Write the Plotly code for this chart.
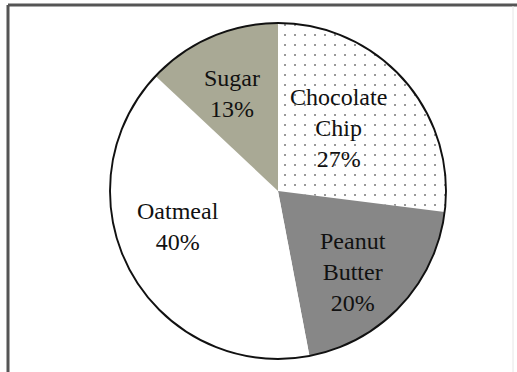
import math
import plotly.graph_objects as go

# Cookie preference shares (percent), clockwise from 12 o'clock
flavors = ["Chocolate<br>Chip", "Peanut<br>Butter", "Oatmeal", "Sugar"]
shares = [27, 20, 40, 13]

# Slice styling
fill_colors = ["#ffffff", "#878787", "#ffffff", "#a9a995"]
pattern_shapes = [".", "", "", ""]

# Label placement: fraction of the radius and small angular nudge (degrees)
label_radius = [0.52, 0.66, 0.63, 0.64]
label_turn = [-5, 4, 9, -2]

W, H = 517, 372
CX, CY, R = 278, 191, 168  # pie centre and radius in pixels

dom_x = [(CX - R) / W, (CX + R) / W]
dom_y = [(H - CY - R) / H, (H - CY + R) / H]

fig = go.Figure()

fig.add_trace(go.Pie(
    labels=flavors,
    values=shares,
    sort=False,
    direction="clockwise",
    rotation=0,
    domain=dict(x=dom_x, y=dom_y),
    marker=dict(
        colors=fill_colors,
        line=dict(width=0),
        pattern=dict(shape=pattern_shapes, fgcolor="#000000", bgcolor="#ffffff",
                     size=10, solidity=0.035, fillmode="overlay"),
    ),
    textinfo="none",
    hoverinfo="skip",
    showlegend=False,
))

# Outer rim of the pie
fig.add_trace(go.Pie(
    values=[1],
    labels=["rim"],
    sort=False,
    domain=dict(x=dom_x, y=dom_y),
    marker=dict(colors=["rgba(0,0,0,0)"], line=dict(color="#111111", width=1.9)),
    textinfo="none",
    hoverinfo="skip",
    showlegend=False,
))

# Slice labels placed along each slice's mid-angle
total = sum(shares)
cum = 0
annotations = []
for name, val, rf, turn in zip(flavors, shares, label_radius, label_turn):
    mid = (cum + val / 2) / total * 360 + turn
    cum += val
    px = CX + rf * R * math.sin(math.radians(mid))
    py = CY - rf * R * math.cos(math.radians(mid))
    pct = round(val / total * 100)
    annotations.append(dict(
        x=px / W, y=1 - py / H, xref="paper", yref="paper",
        text=f"{name}<br>{pct}%", showarrow=False,
        xanchor="center", yanchor="middle", align="center",
        font=dict(family="Liberation Serif, Times New Roman, serif", size=24, color="#111111"),
    ))

# Frame around the chart area
shapes = [
    dict(type="line", xref="paper", yref="paper", x0=8 / W, x1=1, y0=1 - 5 / H, y1=1 - 5 / H,
         line=dict(color="#555555", width=3)),
    dict(type="line", xref="paper", yref="paper", x0=8 / W, x1=8 / W, y0=0, y1=1 - 5 / H,
         line=dict(color="#555555", width=3)),
    dict(type="line", xref="paper", yref="paper", x0=513 / W, x1=513 / W, y0=0, y1=1 - 6 / H,
         line=dict(color="#e6e6e6", width=1)),
]

fig.update_layout(
    width=W, height=H,
    margin=dict(l=0, r=0, t=0, b=0),
    paper_bgcolor="#ffffff",
    plot_bgcolor="#ffffff",
    annotations=annotations,
    shapes=shapes,
)

fig.write_html("out.html")
